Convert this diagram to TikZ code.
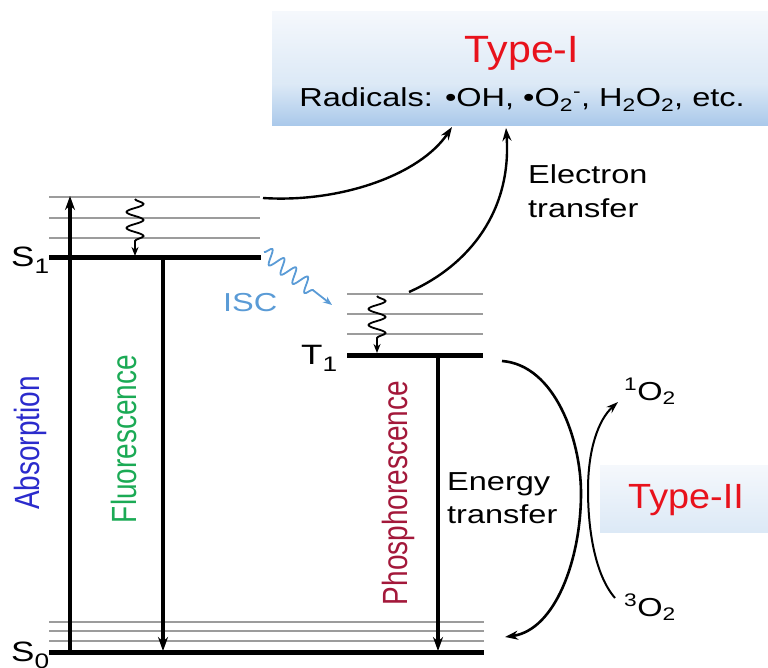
\documentclass[tikz,border=0pt]{standalone}
\usepackage{graphicx}
\usepackage{fontspec}
\setmainfont{Liberation Sans}[FakeStretch=1.25]
\newfontfamily\titlefont{Liberation Sans}[FakeStretch=1.08]
\newfontfamily\plainfont{Liberation Sans}
\usetikzlibrary{arrows.meta,decorations.pathmorphing}
\definecolor{typered}{HTML}{E8121C}
\definecolor{absblue}{HTML}{2B2BCC}
\definecolor{flgreen}{HTML}{1BAA55}
\definecolor{phred}{HTML}{A3183A}
\definecolor{iscblue}{HTML}{5A9BD6}
\definecolor{levelgray}{HTML}{9C9C9C}
\definecolor{boxtop}{HTML}{F5F8FC}
\definecolor{boxmid}{HTML}{DCE9F6}
\definecolor{boxbot}{HTML}{A9C8EA}
\newcommand\lvlsub[1]{\raisebox{-7pt}{\fontsize{21}{21}\selectfont #1}}
\begin{document}
\begin{tikzpicture}[x=1pt,y=-1pt,
  level/.style={line width=5pt,black},
  sublevel/.style={line width=2.2pt,levelgray},
  radarrow/.style={line width=3.2pt,-{Stealth[length=14pt,width=10pt]}},
  etrans/.style={line width=2.4pt,-{Stealth[length=13pt,width=9pt]}},
  wavy/.style={line width=1.8pt,decorate,
    decoration={snake,segment length=16pt,amplitude=8.5pt,post length=14pt},
    -{Stealth[length=9pt,width=7pt]}},
  lbl/.style={inner sep=0pt,font=\fontsize{26}{34}\selectfont},
  rotlbl/.style={inner sep=0pt,rotate=90,font=\plainfont\fontsize{28}{30}\selectfont},
  title/.style={inner sep=0pt,text=typered},
]
\useasboundingbox (0,0) rectangle (768,668);

% ---------- boxes ----------
\shade[top color=boxtop,bottom color=boxmid] (272,12) rectangle (768,84);
\shade[top color=boxmid,bottom color=boxbot] (272,84) rectangle (768,126);
\coordinate (boxA) at (452,127);
\coordinate (boxB) at (506,128);
\shade[top color=boxtop,middle color=boxbot!90,bottom color=boxmid] (600,465) rectangle (768,532);

\node[title,anchor=base,font=\titlefont\fontsize{38}{40}\selectfont] (typeI) at (522,63) {Type-I};
\node[lbl,anchor=base] (radicals) at (522,107) {Radicals: •OH, •O\textsubscript{2}\textsuperscript{-}, H\textsubscript{2}O\textsubscript{2}, etc.};
\node[title,anchor=base,font=\titlefont\fontsize{35}{38}\selectfont] (typeII) at (686,508) {Type-II};

% ---------- levels ----------
\coordinate (S1L) at (49,258);  \coordinate (S1R) at (261,258);
\coordinate (T1L) at (347,355); \coordinate (T1R) at (483,355);
\coordinate (S0L) at (49,652);  \coordinate (S0R) at (484,652);

\foreach \yy in {197,218,238} \draw[sublevel] (49,\yy) -- (260,\yy);
\foreach \yy in {294,314,334} \draw[sublevel] (347,\yy) -- (483,\yy);
\foreach \yy in {622,631,641} \draw[sublevel] (49,\yy) -- (484,\yy);

\draw[level] (S1L) -- (S1R);
\draw[level] (T1L) -- (T1R);
\draw[level] (S0L) -- (S0R);

\node[lbl,anchor=base west,font=\fontsize{28}{30}\selectfont] (S1) at (11,267) {S\lvlsub{1}};
\node[lbl,anchor=base west,font=\fontsize{28}{30}\selectfont] (S0) at (11,661) {S\lvlsub{0}};
\node[lbl,anchor=base west,font=\fontsize{28}{30}\selectfont] (T1) at (301,364) {T\lvlsub{1}};

% ---------- radiative transitions ----------
\coordinate (absA) at (70,652);  \coordinate (absB) at (70,196);
\coordinate (flA) at (163,258);  \coordinate (flB) at (163,651);
\coordinate (phA) at (438,355);  \coordinate (phB) at (438,651);
\draw[radarrow] (absA) -- (absB);
\draw[radarrow] (flA) -- (flB);
\draw[radarrow] (phA) -- (phB);

\node[rotlbl,text=absblue] (abs) at (30,443) {\scalebox{1}[1.25]{Absorption}};
\node[rotlbl,text=flgreen] (fl) at (124,439) {\scalebox{1}[1.25]{Fluorescence}};
\node[rotlbl,text=phred] (ph) at (398,493) {\scalebox{1}[1.25]{Phosphorescence}};

% ---------- non-radiative ----------
\coordinate (vrS1a) at (135,199); \coordinate (vrS1b) at (135,256);
\coordinate (vrT1a) at (377,296); \coordinate (vrT1b) at (377,353);
\draw[wavy] (vrS1a) -- (vrS1b);
\draw[wavy] (vrT1a) -- (vrT1b);

\coordinate (iscA) at (264,252); \coordinate (iscB) at (332,305);
\draw[wavy,iscblue,decoration={snake,segment length=15pt,amplitude=7.5pt,post length=22pt}] (iscA) -- (iscB);
\node[lbl,anchor=base west,text=iscblue] (isc) at (223,312) {ISC};

% ---------- electron transfer ----------
\coordinate (etA) at (263,198);
\coordinate (etB) at (409,292);
\draw[etrans] (etA) .. controls (340,203) and (420,175) .. (boxA);
\draw[etrans] (etB) .. controls (470,265) and (512,210) .. (boxB);
\node[lbl,anchor=north west,align=left] (etlbl) at (528,164) {Electron\\transfer};

% ---------- energy transfer ----------
\coordinate (enA) at (502,361);
\coordinate (enB) at (505,637);
\draw[line width=2.6pt,-{Stealth[length=13pt,width=9pt]}] (enA) .. controls (555,365) and (581,440) .. (581,493) .. controls (581,560) and (555,630) .. (enB);
\node[lbl,anchor=north west,align=left,font=\fontsize{26}{33}\selectfont] (enlbl) at (447,472) {Energy\\transfer};

\node[lbl,anchor=base west] (o1) at (624,400) {\textsuperscript{1}O\textsubscript{2}};
\node[lbl,anchor=base west] (o3) at (624,616) {\textsuperscript{3}O\textsubscript{2}};
\coordinate (oA) at (615,598);
\coordinate (oB) at (618,402);
\draw[line width=2pt,-{Stealth[length=12pt,width=8pt]}] (oA) .. controls (595,575) and (588,530) .. (588,490) .. controls (588,450) and (598,420) .. (oB);
\end{tikzpicture}
\end{document}
